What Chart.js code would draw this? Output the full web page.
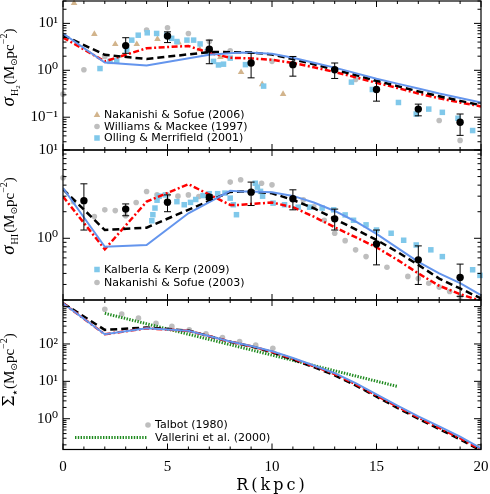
<!DOCTYPE html>
<html><head><meta charset="utf-8">
<script src="https://cdn.jsdelivr.net/npm/chart.js@4.4.1/dist/chart.umd.min.js"></script>
<style>
html,body{margin:0;padding:0;background:#fff;}
#wrap{position:relative;width:490px;height:494px;background:#fff;}
canvas{position:absolute;left:0;top:0;}
</style></head><body>
<div id="wrap">
<canvas id="c1" width="490" height="494"></canvas>
<canvas id="c2" width="490" height="494"></canvas>
<canvas id="c3" width="490" height="494"></canvas>
</div>
<script>
// ================= DATA =================
// ---- Panel 1: sigma_H2 ----
const h2ObsR  = [3, 5, 7, 9, 11, 13, 15, 17, 19];
const h2Obs   = [3.36, 5.4, 2.82, 1.43, 1.32, 1.03, 0.39, 0.149, 0.078];
const h2ObsLo = [2.3, 3.9, 1.38, 0.69, 0.75, 0.67, 0.22, 0.107, 0.041];
const h2ObsHi = [4.95, 6.6, 4.4, 2.3, 1.97, 1.43, 0.59, 0.19, 0.117];

const nakanishi06R = [0.53, 1.5, 2.5, 3.53, 4.52, 5.53, 6.54, 7.53, 8.52, 9.53, 10.53];
const nakanishi06  = [27, 5.9, 3.6, 3.6, 4.65, 3.9, 2.8, 1.9, 0.91, 0.5, 0.31];

const williamsR = [0, 1, 2, 4, 5, 6, 7, 8, 10, 14, 18, 19];
const williams  = [0.31, 1.03, 1.97, 7.2, 8.1, 6.1, 4.1, 2.6, 1.55, 0.64, 0.085, 0.032];

const ollingR = [1.77, 2.25, 2.57, 3.05, 3.29, 3.6, 4.03, 4.48, 4.96, 5.2, 5.45, 5.93, 6.25, 6.56, 6.9, 7.2, 7.44, 7.68, 8.0, 8.73, 9.6, 13.8, 14.8, 16.05, 16.9, 17.5, 18.15, 18.9, 19.6];
const olling  = [1.09, 1.55, 1.6, 2.73, 4.4, 5.6, 6.3, 6.1, 5.6, 4.8, 4.1, 4.4, 4.4, 3.65, 2.5, 1.55, 1.3, 1.35, 1.82, 1.32, 0.46, 0.56, 0.39, 0.206, 0.117, 0.149, 0.127, 0.095, 0.052];

const blueH2R = [0, 2, 4, 7, 8.5, 9, 10, 11, 12, 13, 14, 15, 16, 17, 18, 19, 20];
const blueH2  = [6.1, 1.47, 1.27, 2.14, 2.40, 2.36, 2.25, 1.85, 1.45, 1.14, 0.87, 0.66, 0.52, 0.41, 0.32, 0.258, 0.206];
const dashH2R = [0, 2, 4, 7, 8.5, 9, 10, 11, 12, 13, 14, 15, 16, 17, 18, 19, 20];
const dashH2  = [5.6, 2.14, 1.74, 2.45, 2.43, 2.40, 2.17, 1.73, 1.34, 1.03, 0.79, 0.60, 0.46, 0.356, 0.28, 0.223, 0.18];
const redH2R  = [0, 2, 4, 6, 7, 8, 8.5, 9, 10, 11, 12, 13, 14, 15, 16, 17, 18, 19, 20];
const redH2   = [5.0, 1.55, 2.96, 3.3, 2.35, 1.85, 1.82, 1.79, 1.68, 1.43, 1.16, 0.92, 0.71, 0.54, 0.42, 0.32, 0.254, 0.206, 0.17];

// ---- Panel 2: sigma_HI ----
const hiObsR  = [1, 3, 5, 7, 9, 11, 13, 15, 17, 19];
const hiObs   = [2.67, 2.14, 2.56, 2.92, 3.33, 2.8, 1.66, 0.86, 0.57, 0.36];
const hiObsLo = [1.24, 1.8, 2.0, 2.75, 2.35, 2.1, 1.24, 0.50, 0.30, 0.22];
const hiObsHi = [4.14, 2.45, 3.1, 3.1, 4.33, 3.54, 2.14, 1.24, 0.82, 0.51];

const kalberlaR = [4.25, 4.3, 4.4, 4.5, 4.6, 4.9, 5.45, 5.8, 6.1, 6.35, 6.7, 7.0, 7.4, 7.75, 8.0, 8.15, 8.3, 9.2, 9.3, 9.45, 9.55, 10.05, 10.6, 11.25, 11.8, 12.4, 12.95, 13.5, 13.9, 14.5, 15.0, 15.7, 16.3, 16.9, 17.6, 18.15, 19.6, 19.95];
const kalberla  = [1.58, 1.85, 2.2, 2.7, 3.0, 3.1, 2.6, 2.4, 2.55, 2.75, 3.05, 3.2, 3.2, 3.25, 2.85, 2.4, 1.85, 4.2, 3.8, 3.4, 3.0, 2.5, 2.4, 2.25, 2.25, 2.2, 2.1, 1.84, 1.6, 1.42, 1.24, 1.14, 0.95, 0.84, 0.74, 0.62, 0.44, 0.38];

const nakanishi03R = [0, 0.5, 1.5, 2, 2.5, 3, 3.5, 4, 4.5, 5, 5.5, 6, 6.5, 7, 8, 8.5, 9.5, 10, 11.5, 12, 12.5, 13, 13.5, 14, 14.5, 15.5, 16.5, 17, 17.5, 18, 18.5, 19];
const nakanishi03  = [4.85, 2.6, 1.76, 2.1, 2.06, 1.8, 2.54, 3.39, 3.1, 3.1, 3.0, 3.1, 2.97, 2.9, 4.33, 4.6, 4.2, 4.03, 2.72, 2.28, 1.6, 1.14, 0.94, 0.74, 0.62, 0.47, 0.37, 0.35, 0.31, 0.28, 0.25, 0.217];

const blueHIR = [0, 2, 4, 6, 8, 8.5, 9, 10, 11, 12, 13, 14, 15, 16, 17, 18, 19, 20];
const blueHI  = [3.7, 0.80, 0.84, 1.92, 3.45, 3.39, 3.39, 3.33, 3.02, 2.54, 2.04, 1.55, 1.12, 0.78, 0.54, 0.40, 0.31, 0.227];
const dashHIR = [0, 2, 4, 8, 8.5, 9, 10, 11, 12, 13, 14, 15, 16, 17, 18, 19, 20];
const dashHI  = [3.6, 1.24, 1.32, 3.35, 3.39, 3.39, 3.24, 2.72, 2.19, 1.66, 1.26, 0.96, 0.70, 0.50, 0.35, 0.27, 0.208];
const redHIR  = [0, 2, 4, 6, 8, 8.5, 9, 10, 11, 12, 13, 14, 15, 16, 17, 18, 19, 20];
const redHI   = [2.97, 0.75, 2.6, 4.1, 2.39, 2.39, 2.45, 2.54, 2.25, 1.76, 1.33, 1.03, 0.79, 0.57, 0.40, 0.29, 0.233, 0.195];

// ---- Panel 3: Sigma_star ----
const talbotR = [2.0, 2.81, 3.61, 4.45, 5.21, 6.04, 6.84, 7.63, 8.45, 9.22, 10.04];
const talbot  = [845, 630, 490, 357, 295, 238, 186, 148, 116, 93, 77];
const valleriniR = [2, 16];
const vallerini  = [660, 7.3];

const starR    = [0, 2, 4, 6, 8, 9, 10, 11, 12, 13, 14, 15, 16, 17, 18, 19, 20];
const blueStar = [1230, 182, 262, 224, 117, 88, 64, 42, 26.5, 16.5, 8.9, 4.5, 2.25, 1.15, 0.62, 0.33, 0.16];
const dashStar = [1230, 238, 276, 228, 114, 86, 60, 38, 24, 14.5, 7.8, 3.9, 1.95, 1.0, 0.53, 0.28, 0.14];
const redStar  = [1230, 182, 262, 224, 116, 87, 62, 40, 25.5, 15.7, 8.4, 4.2, 2.1, 1.08, 0.57, 0.30, 0.15];

// ---- axes ----
const xTicks = [0, 5, 10, 15, 20];
const h2Ticks = [0.1, 1, 10];      const h2Labels = ['10⁻¹', '10⁰', '10¹'];
const hiTicks = [1, 10];           const hiLabels = ['10⁰', '10¹'];
const starTicks = [1, 10, 100];    const starLabels = ['10⁰', '10¹', '10²'];

// ================= STYLE =================
const TAN = '#d2b48c', GRAY = '#bebebe', SKY = 'rgb(128,200,234)', BLUE = 'rgb(100,149,237)', RED = '#ff0000', GREEN = '#1f8a1f', BLACK = '#000';
const SERIF = '"Liberation Serif", "DejaVu Serif", serif';

function pts(xs, ys) { return xs.map((x, i) => ({ x: x, y: ys[i] })); }
function lineDS(label, xs, ys, color, dash, width, order) {
  return { label, data: pts(xs, ys), showLine: true, pointRadius: 0, borderColor: color, borderWidth: width,
           borderDash: dash, fill: false, tension: 0, order };
}
function pointDS(label, xs, ys, style, r, color, order, extra) {
  return Object.assign({ label, data: pts(xs, ys), showLine: false, pointStyle: style, pointRadius: r,
    pointBackgroundColor: color, backgroundColor: color, borderColor: color, pointBorderWidth: 0, borderWidth: 0,
    clip: false, order }, extra || {});
}
const DASH = [7, 4], DASHDOT = [6, 2.5, 2, 2.5];

function yAxis(min, max, ticks, labels) {
  return { type: 'logarithmic', min, max, position: 'left',
    afterFit(s) { s.width = 63; s.paddingTop = 0; s.paddingBottom = 0; },
    afterBuildTicks(s) { s.ticks = ticks.map(v => ({ value: v })); },
    ticks: { autoSkip: false, padding: 5, color: BLACK, font: { family: SERIF, size: 15 },
             callback: (v, i) => labels[i] },
    grid: { display: false, drawTicks: false }, border: { display: false } };
}

function drawSym(ctx, s, x, y) {
  ctx.save(); ctx.fillStyle = s.color; ctx.strokeStyle = s.color;
  if (s.type === 'circle') { ctx.beginPath(); ctx.arc(x, y, s.r, 0, Math.PI * 2); ctx.fill(); }
  else if (s.type === 'rect') { const h = s.r * Math.SQRT1_2; ctx.fillRect(x - h, y - h, 2 * h, 2 * h); }
  else if (s.type === 'triangle') {
    ctx.beginPath();
    for (let k = 0; k < 3; k++) { const a = k * 2 * Math.PI / 3; const px = x + Math.sin(a) * s.r, py = y - Math.cos(a) * s.r; k ? ctx.lineTo(px, py) : ctx.moveTo(px, py); }
    ctx.closePath(); ctx.fill();
  } else if (s.type === 'line') {
    ctx.lineWidth = s.w; ctx.setLineDash(s.dash || []); ctx.beginPath(); ctx.moveTo(s.x0, y); ctx.lineTo(s.x1, y); ctx.stroke();
  }
  ctx.restore();
}

function drawRich(ctx, segs, cx, cy) {
  ctx.save(); ctx.translate(cx, cy); ctx.rotate(-Math.PI / 2);
  ctx.textBaseline = 'alphabetic'; ctx.textAlign = 'left'; ctx.fillStyle = BLACK;
  let total = 0;
  for (const s of segs) { ctx.font = s.f; s.w = ctx.measureText(s.t).width + (s.gap || 0); total += s.w; }
  let x = -total / 2;
  for (const s of segs) { ctx.font = s.f; ctx.fillText(s.t, x, s.dy || 0); x += s.w; }
  ctx.restore();
}

function deco(cfg) {
  return {
    id: 'deco',
    beforeDatasetDraw(chart, args) {
      const ds = chart.data.datasets[args.index];
      if (!ds.errLo) return;
      const { ctx } = chart; const xs = chart.scales.x, ys = chart.scales.y;
      ctx.save(); ctx.strokeStyle = BLACK; ctx.lineWidth = 1;
      ds.data.forEach((p, i) => {
        const px = xs.getPixelForValue(p.x), y0 = ys.getPixelForValue(ds.errLo[i]), y1 = ys.getPixelForValue(ds.errHi[i]);
        ctx.beginPath(); ctx.moveTo(px, y0); ctx.lineTo(px, y1);
        ctx.moveTo(px - 3.5, y0); ctx.lineTo(px + 3.5, y0); ctx.moveTo(px - 3.5, y1); ctx.lineTo(px + 3.5, y1); ctx.stroke();
      });
      ctx.restore();
    },
    afterDatasetsDraw(chart) {
      const { ctx, chartArea: a } = chart; const xs = chart.scales.x, ys = chart.scales.y;
      ctx.save(); ctx.strokeStyle = BLACK; ctx.lineWidth = 1.2; ctx.setLineDash([]);
      ctx.strokeRect(a.left, a.top, a.right - a.left, a.bottom - a.top);
      ctx.lineWidth = 1;
      ctx.beginPath();
      for (let v = 0; v <= 20; v++) {
        const px = xs.getPixelForValue(v), L = v % 5 === 0 ? 6 : 3;
        ctx.moveTo(px, a.bottom); ctx.lineTo(px, a.bottom - L);
        ctx.moveTo(px, a.top); ctx.lineTo(px, a.top + L);
      }
      const lo = Math.floor(Math.log10(ys.min)), hi = Math.ceil(Math.log10(ys.max));
      for (let k = lo; k <= hi; k++) for (let m = 1; m <= 9; m++) {
        const v = m * Math.pow(10, k); if (v < ys.min * 0.999 || v > ys.max * 1.001) continue;
        const py = ys.getPixelForValue(v), L = m === 1 ? 7 : 3.5;
        ctx.moveTo(a.left, py); ctx.lineTo(a.left + L, py);
        ctx.moveTo(a.right, py); ctx.lineTo(a.right - L, py);
      }
      ctx.stroke(); ctx.restore();
    },
    afterDraw(chart) {
      const { ctx } = chart;
      ctx.save(); ctx.font = '11px "DejaVu Sans"'; ctx.textBaseline = 'middle'; ctx.fillStyle = BLACK;
      for (const e of cfg.legend) { drawSym(ctx, e.sym, e.sx, e.y); ctx.fillText(e.text, e.tx, e.y + 0.5); }
      ctx.restore();
      drawRich(ctx, cfg.title, cfg.tx, cfg.ty);
    }
  };
}

function makeChart(id, datasets, yCfg, xCfg, padding, decoCfg) {
  return new Chart(document.getElementById(id), {
    type: 'scatter',
    data: { datasets },
    options: {
      responsive: false, animation: false, devicePixelRatio: 1, events: [],
      layout: { padding, autoPadding: false },
      plugins: { legend: { display: false }, tooltip: { enabled: false } },
      scales: { x: xCfg, y: yCfg }
    },
    plugins: [deco(decoCfg)]
  });
}

const hiddenX = { type: 'linear', min: 0, max: 20, display: false };
const T15 = '15px ' + SERIF, SIG = 'italic 19px "Liberation Serif"', SUB = '10px ' + SERIF, SUN = '9px "DejaVu Sans"';

// ---- Panel 1 ----
makeChart('c1', [
  pointDS('Observed', h2ObsR, h2Obs, 'circle', 3.7, BLACK, 0, { errLo: h2ObsLo, errHi: h2ObsHi }),
  lineDS('Model (solid)', blueH2R, blueH2, BLUE, [], 2, 1),
  lineDS('Model (dashed)', dashH2R, dashH2, BLACK, DASH, 2.5, 2),
  lineDS('Model (dash-dot)', redH2R, redH2, RED, DASHDOT, 2.5, 3),
  pointDS('Olling & Merrifield (2001)', ollingR, olling, 'rect', 3.9, SKY, 4),
  pointDS('Williams & Mackee (1997)', williamsR, williams, 'circle', 2.8, GRAY, 5),
  pointDS('Nakanishi & Sofue (2006)', nakanishi06R, nakanishi06, 'triangle', 3.8, TAN, 6)
], yAxis(0.02, 30, h2Ticks, h2Labels), hiddenX, { top: 1, left: 0, right: 9, bottom: 344 }, {
  legend: [
    { sym: { type: 'triangle', r: 3.8, color: TAN }, sx: 97, tx: 104, y: 115, text: 'Nakanishi & Sofue (2006)' },
    { sym: { type: 'circle', r: 2.8, color: GRAY }, sx: 97, tx: 104, y: 126.5, text: 'Williams & Mackee (1997)' },
    { sym: { type: 'rect', r: 3.9, color: SKY }, sx: 97, tx: 104, y: 138, text: 'Olling & Merrifield (2001)' }
  ],
  title: [ { t: 'σ', f: SIG, gap: 1 }, { t: 'H', f: '10px ' + SERIF, dy: 4 }, { t: '2', f: '7px ' + SERIF, dy: 6, gap: 1 },
           { t: '(M', f: T15 }, { t: '⊙', f: SUN, dy: 3 }, { t: 'pc', f: T15 }, { t: '−2', f: SUB, dy: -7 }, { t: ')', f: T15 } ],
  tx: 13.5, ty: 67.5
});

// ---- Panel 2 ----
makeChart('c2', [
  pointDS('Observed', hiObsR, hiObs, 'circle', 3.7, BLACK, 0, { errLo: hiObsLo, errHi: hiObsHi }),
  lineDS('Model (solid)', blueHIR, blueHI, BLUE, [], 2, 1),
  lineDS('Model (dashed)', dashHIR, dashHI, BLACK, DASH, 2.5, 2),
  lineDS('Model (dash-dot)', redHIR, redHI, RED, DASHDOT, 2.5, 3),
  pointDS('Kalberla & Kerp (2009)', kalberlaR, kalberla, 'rect', 3.9, SKY, 4),
  pointDS('Nakanishi & Sofue (2003)', nakanishi03R, nakanishi03, 'circle', 2.8, GRAY, 5)
], yAxis(0.2, 10, hiTicks, hiLabels), hiddenX, { top: 150, left: 0, right: 9, bottom: 194 }, {
  legend: [
    { sym: { type: 'rect', r: 3.9, color: SKY }, sx: 97, tx: 104, y: 269.5, text: 'Kalberla & Kerp (2009)' },
    { sym: { type: 'circle', r: 2.8, color: GRAY }, sx: 97, tx: 104, y: 282.5, text: 'Nakanishi & Sofue (2003)' }
  ],
  title: [ { t: 'σ', f: SIG, gap: 1 }, { t: 'HI', f: '10px ' + SERIF, dy: 4, gap: 1 },
           { t: '(M', f: T15 }, { t: '⊙', f: SUN, dy: 3 }, { t: 'pc', f: T15 }, { t: '−2', f: SUB, dy: -7 }, { t: ')', f: T15 } ],
  tx: 13.5, ty: 216
});

// ---- Panel 3 ----
makeChart('c3', [
  lineDS('Model (solid)', starR, blueStar, BLUE, [], 2, 1),
  lineDS('Model (dashed)', starR, dashStar, BLACK, DASH, 2.5, 3),
  lineDS('Model (dash-dot)', starR, redStar, RED, DASHDOT, 2.5, 2),
  lineDS('Vallerini et al. (2000)', valleriniR, vallerini, GREEN, [1.4, 1.4], 3, 4),
  pointDS('Talbot (1980)', talbotR, talbot, 'circle', 2.8, GRAY, 5)
], yAxis(0.15, 1500, starTicks, starLabels), {
  type: 'linear', min: 0, max: 20,
  afterFit(s) {
    s.height = 44.5; s.paddingLeft = 0; s.paddingRight = 0;
    if (!s._wrappedTitle) {
      const orig = s.drawTitle;
      s.drawTitle = function () { const c = this.ctx; const prev = c.letterSpacing; c.letterSpacing = '3px'; orig.apply(this, arguments); c.letterSpacing = prev || '0px'; };
      s._wrappedTitle = true;
    }
  },
  afterBuildTicks(s) { s.ticks = xTicks.map(v => ({ value: v })); },
  ticks: { autoSkip: false, maxRotation: 0, padding: 9, color: BLACK, font: { family: SERIF, size: 15 } },
  grid: { display: false, drawTicks: false }, border: { display: false },
  title: { display: true, text: 'R(kpc)', color: BLACK, font: { family: '"DejaVu Serif"', size: 16, lineHeight: 1 }, padding: { top: 0, bottom: 0 } }
}, { top: 300, left: 0, right: 9, bottom: 0 }, {
  legend: [
    { sym: { type: 'circle', r: 2.8, color: GRAY }, sx: 148, tx: 155, y: 425, text: 'Talbot (1980)' },
    { sym: { type: 'line', x0: 75, x1: 147, w: 3, dash: [1.4, 1.4], color: GREEN }, sx: 0, tx: 155, y: 437.5, text: 'Vallerini et al. (2000)' }
  ],
  title: [ { t: 'Σ', f: '16px "DejaVu Serif"' }, { t: '★', f: '6px "DejaVu Sans"', dy: 3, gap: 1 },
           { t: '(M', f: T15 }, { t: '⊙', f: SUN, dy: 3 }, { t: 'pc', f: T15 }, { t: '−2', f: SUB, dy: -7 }, { t: ')', f: T15 } ],
  tx: 13.5, ty: 370
});
</script>
</body></html>
